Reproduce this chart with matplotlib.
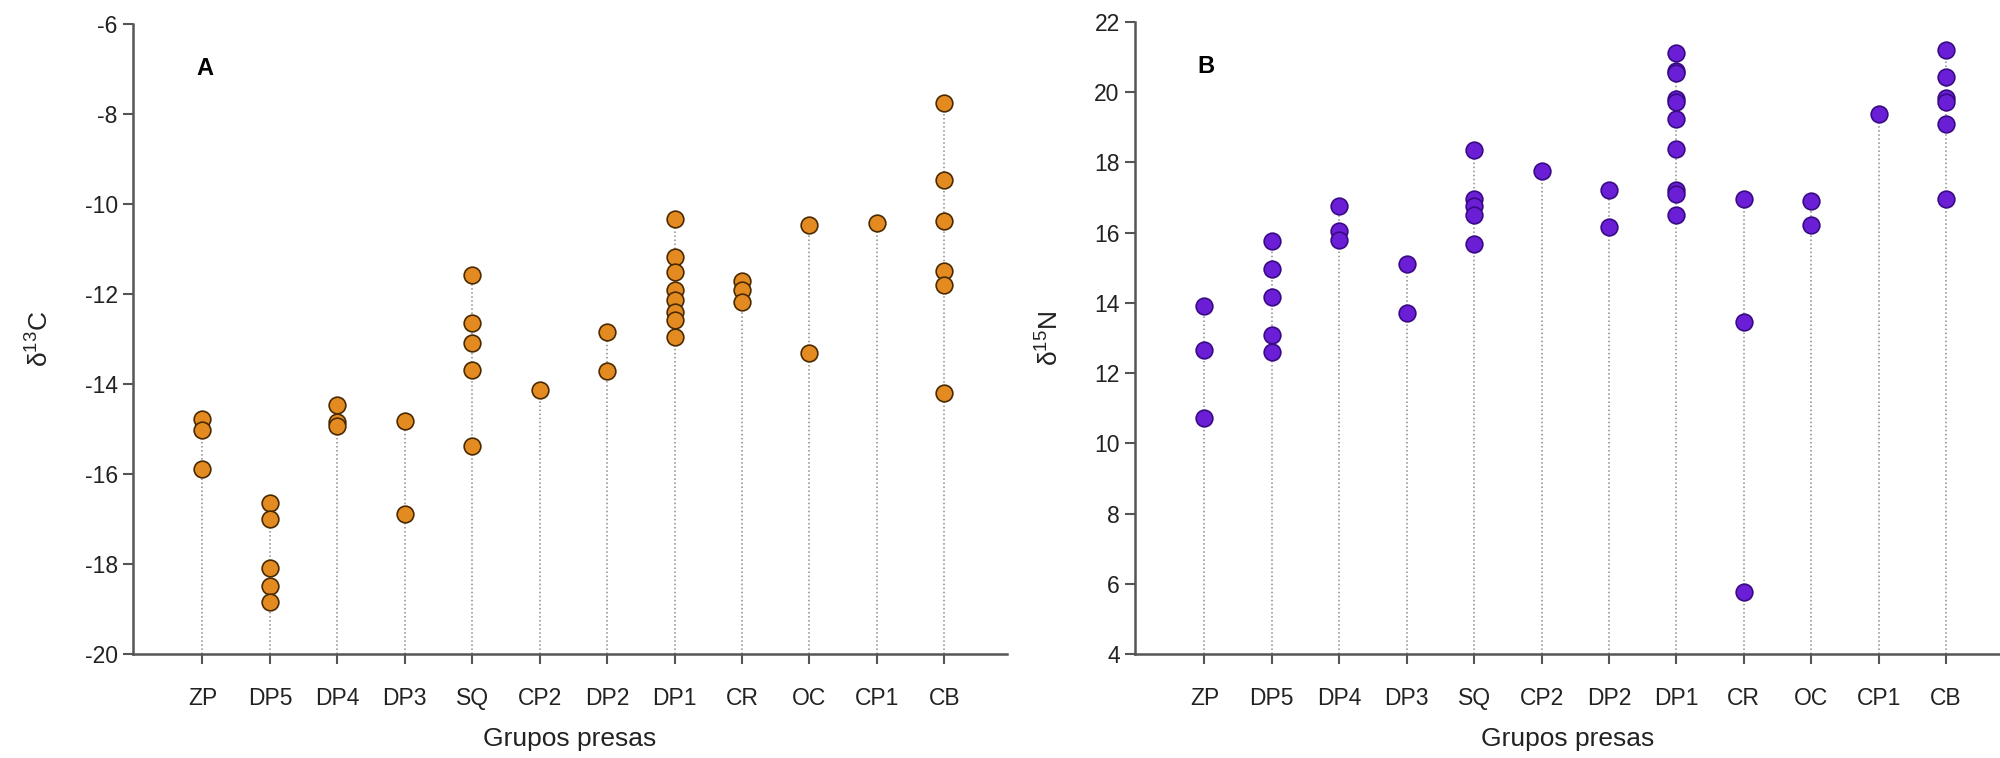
import matplotlib
matplotlib.use("Agg")
import matplotlib.pyplot as plt

plt.rcParams['font.family'] = ['Liberation Sans', 'DejaVu Sans']

grupos = ['ZP', 'DP5', 'DP4', 'DP3', 'SQ', 'CP2', 'DP2', 'DP1', 'CR', 'OC', 'CP1', 'CB']

# delta 13C per group (panel A)
c13_zp = [-14.78, -15.01, -15.88]
c13_dp5 = [-16.65, -16.99, -18.08, -18.49, -18.83]
c13_dp4 = [-14.46, -14.84, -14.94]
c13_dp3 = [-14.82, -16.88]
c13_sq = [-11.57, -12.63, -13.09, -13.68, -15.38]
c13_cp2 = [-14.12]
c13_dp2 = [-12.85, -13.70]
c13_dp1 = [-10.32, -11.17, -11.50, -11.91, -12.13, -12.39, -12.58, -12.95]
c13_cr = [-11.70, -11.90, -12.17]
c13_oc = [-10.47, -13.30]
c13_cp1 = [-10.41]
c13_cb = [-7.75, -9.46, -10.37, -11.48, -11.79, -14.20]

# delta 15N per group (panel B)
n15_zp = [13.90, 12.65, 10.71]
n15_dp5 = [15.77, 14.96, 14.18, 13.09, 12.61]
n15_dp4 = [16.75, 16.05, 15.79]
n15_dp3 = [15.10, 13.70]
n15_sq = [18.35, 16.95, 16.75, 16.49, 15.68]
n15_cp2 = [17.76]
n15_dp2 = [17.23, 16.15]
n15_dp1 = [21.13, 20.60, 20.56, 19.81, 19.71, 19.23, 18.37, 17.23, 17.10, 16.49]
n15_cr = [16.97, 13.45, 5.78]
n15_oc = [16.89, 16.21]
n15_cp1 = [19.37]
n15_cb = [21.20, 20.42, 19.84, 19.71, 19.09, 16.97]

c13 = [c13_zp, c13_dp5, c13_dp4, c13_dp3, c13_sq, c13_cp2, c13_dp2, c13_dp1, c13_cr, c13_oc, c13_cp1, c13_cb]
n15 = [n15_zp, n15_dp5, n15_dp4, n15_dp3, n15_sq, n15_cp2, n15_dp2, n15_dp1, n15_cr, n15_oc, n15_cp1, n15_cb]

fig = plt.figure(figsize=(20, 7.58), dpi=100)
axA = fig.add_axes([0.0665, 0.137, 0.437, 0.831])
axB = fig.add_axes([0.5675, 0.137, 0.4325, 0.834])


def panel(ax, data, ymin, ymax, xmax, face, edge, ylab, letter):
    for i, vals in enumerate(data):
        ax.plot([i, i], [ymin, max(vals)], color='#8a8a8a', linestyle=':', linewidth=1.1, zorder=1)
        ax.plot([i] * len(vals), vals, 'o', markersize=12, markerfacecolor=face,
                markeredgecolor=edge, markeredgewidth=1.2, linestyle='none', zorder=3)
    ax.set_ylim(ymin, ymax)
    ax.set_xlim(-1.03, xmax)
    ax.set_xticks(range(len(grupos)))
    ax.set_xticklabels(grupos)
    ax.spines['top'].set_visible(False)
    ax.spines['right'].set_visible(False)
    for s in ['left', 'bottom']:
        ax.spines[s].set_color('#555555')
        ax.spines[s].set_linewidth(1.8)
    ax.tick_params(axis='both', direction='out', length=7, width=1.5, color='#555555',
                   labelsize=16.5, labelcolor='#222222', pad=4)
    ax.tick_params(axis='x', pad=17)
    ax.set_xlabel('Grupos presas', fontsize=19, color='#222222', labelpad=12)
    ax.set_ylabel(ylab, fontsize=19, color='#222222', labelpad=22)
    ax.text(0.072, 0.93, letter, transform=ax.transAxes, fontsize=17, fontweight='bold',
            ha='left', va='center')


panel(axA, c13, -20, -6, 11.93, '#E38A20', '#4a2a00', r'$\mathregular{\delta^{13}C}$', 'A')
axA.set_yticks(range(-20, -5, 2))
axA.set_yticklabels([str(v) for v in range(-20, -5, 2)])

panel(axB, n15, 4, 22, 11.8, '#6A1FD6', '#3a0a85', r'$\mathregular{\delta^{15}N}$', 'B')
axB.set_yticks(range(4, 23, 2))

fig.savefig('out.png', dpi=100)
